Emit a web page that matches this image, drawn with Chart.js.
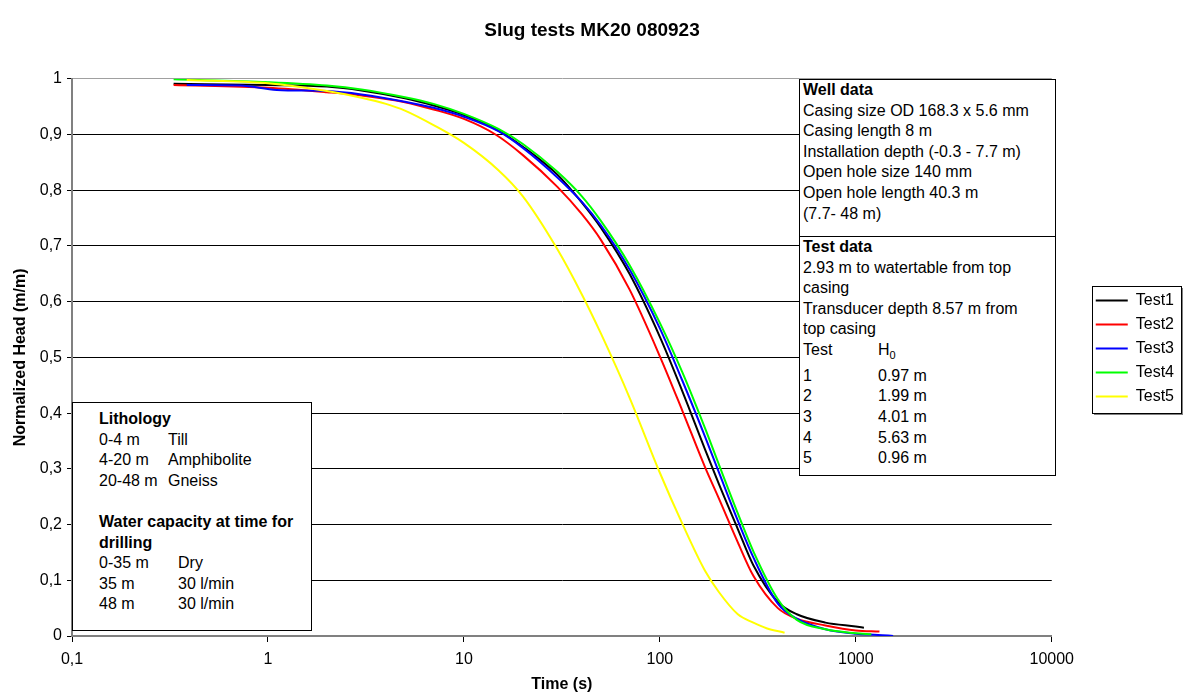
<!DOCTYPE html>
<html>
<head>
<meta charset="utf-8">
<script src="https://cdn.jsdelivr.net/npm/chart.js@4.4.1/dist/chart.umd.min.js"></script>
<style>
  body { margin: 0; background: #fff; }
  #wrap { position: relative; width: 1184px; height: 697px; font-family: "Liberation Sans", Arial, sans-serif; }
  .box { position: absolute; background: #fff; border: 1px solid #000; font-size: 16px; line-height: 20.6px; color: #000; box-sizing: border-box; white-space: nowrap; }
  .c1 { display: inline-block; width: 75px; }
  .c2 { display: inline-block; width: 69px; }
  .c3 { display: inline-block; width: 79px; }
</style>
</head>
<body>
<div id="wrap">
  <canvas id="myChart" width="1184" height="697"></canvas>
  <div class="box" style="left:799px;top:79px;width:257px;height:158px;padding-left:3px;">
    <b>Well data</b><br>Casing size OD 168.3 x 5.6 mm<br>Casing length 8 m<br>Installation depth (-0.3 - 7.7 m)<br>Open hole size 140 mm<br>Open hole length 40.3 m<br>(7.7- 48 m)
  </div>
  <div class="box" style="left:799px;top:236px;width:257px;height:240px;padding-left:3px;">
    <b>Test data</b><br>2.93 m to watertable from top<br>casing<br>Transducer depth 8.57 m from<br>top casing<br>
    <span class="c1">Test</span>H<sub style="font-size:11px">0</sub><br>
    <span class="c1">1</span>0.97 m<br>
    <span class="c1">2</span>1.99 m<br>
    <span class="c1">3</span>4.01 m<br>
    <span class="c1">4</span>5.63 m<br>
    <span class="c1">5</span>0.96 m
  </div>
  <div class="box" style="left:72px;top:402px;width:240px;height:229px;padding-left:26px;padding-top:6px;">
    <b>Lithology</b><br>
    <span class="c2">0-4 m</span>Till<br>
    <span class="c2">4-20 m</span>Amphibolite<br>
    <span class="c2">20-48 m</span>Gneiss<br>
    <br>
    <b>Water capacity at time for<br>drilling</b><br>
    <span class="c3">0-35 m</span>Dry<br>
    <span class="c3">35 m</span>30 l/min<br>
    <span class="c3">48 m</span>30 l/min
  </div>
</div>
<script>
const seriesNames = ['Test1', 'Test2', 'Test3', 'Test4', 'Test5'];
const seriesColors = ['#000000', '#ff0000', '#0000ff', '#00ff00', '#ffff00'];
const xTicks = [0.1, 1, 10, 100, 1000, 10000];

// time (s) and normalized head (m/m)
const t1 = [0.33, 1, 2, 3, 5, 7, 10, 15, 20, 30, 40, 50, 70, 100, 130, 170, 200, 250, 300, 400, 500, 700, 1000, 1100];
const h1 = [0.991, 0.989, 0.986, 0.979, 0.965, 0.952, 0.935, 0.907, 0.878, 0.828, 0.778, 0.733, 0.650, 0.537, 0.440, 0.335, 0.273, 0.192, 0.127, 0.061, 0.039, 0.024, 0.017, 0.015];

const t2 = [0.33, 1, 2, 3, 5, 7, 10, 14.5, 20, 30, 40, 50, 70, 100, 130, 170, 200, 250, 300, 400, 500, 700, 1000, 1320];
const h2 = [0.989, 0.984, 0.976, 0.970, 0.958, 0.945, 0.928, 0.900, 0.863, 0.806, 0.757, 0.711, 0.622, 0.502, 0.405, 0.303, 0.247, 0.168, 0.108, 0.050, 0.031, 0.019, 0.010, 0.008];

const t3 = [0.385, 0.72, 1.11, 2, 3, 5, 7, 10, 15, 20, 30, 40, 50, 70, 100, 130, 170, 200, 250, 300, 400, 500, 700, 1000, 1300, 1550];
const h3 = [0.989, 0.988, 0.980, 0.978, 0.972, 0.959, 0.948, 0.932, 0.906, 0.876, 0.823, 0.779, 0.737, 0.658, 0.552, 0.459, 0.358, 0.294, 0.207, 0.141, 0.058, 0.031, 0.012, 0.004, 0.002, 0.0];

const t4 = [0.33, 1, 2, 3, 5, 7, 10, 15, 20, 30, 40, 50, 70, 100, 130, 170, 200, 250, 300, 400, 500, 700, 1000, 1200];
const h4 = [0.999, 0.994, 0.988, 0.981, 0.967, 0.955, 0.937, 0.910, 0.883, 0.833, 0.789, 0.745, 0.666, 0.562, 0.474, 0.373, 0.308, 0.220, 0.152, 0.066, 0.029, 0.012, 0.005, 0.003];

const t5 = [0.385, 1, 2, 3, 4, 5, 7, 10, 15, 20, 30, 40, 50, 70, 100, 130, 170, 200, 250, 300, 350, 433];
const h5 = [0.998, 0.992, 0.978, 0.966, 0.955, 0.943, 0.917, 0.885, 0.836, 0.789, 0.694, 0.613, 0.543, 0.428, 0.293, 0.202, 0.117, 0.079, 0.039, 0.024, 0.014, 0.006];

const times = [t1, t2, t3, t4, t5];
const heads = [h1, h2, h3, h4, h5];

const pts = (t, h) => t.map((v, i) => ({ x: v, y: h[i] }));

// Excel style frame with shadow around the legend
const legendFrame = {
  id: 'legendFrame',
  afterDraw(chart) {
    const lg = chart.legend;
    if (!lg || !lg.legendHitBoxes || !lg.legendHitBoxes.length) return;
    const hb = lg.legendHitBoxes;
    const last = hb[hb.length - 1];
    const x0 = Math.round(lg.left + 4), x1 = Math.round(lg.left + lg.width - 3);
    const y0 = Math.round(hb[0].top - 7), y1 = Math.round(last.top + last.height + 8);
    const ctx = chart.ctx;
    ctx.save();
    ctx.fillStyle = '#808080';
    ctx.fillRect(x0 + 2, y1, x1 - x0, 2);
    ctx.fillRect(x1, y0 + 2, 2, y1 - y0);
    ctx.strokeStyle = '#000';
    ctx.lineWidth = 1;
    ctx.strokeRect(x0 + 0.5, y0 + 0.5, x1 - x0, y1 - y0);
    ctx.restore();
  }
};

const ctx = document.getElementById('myChart');
new Chart(ctx, {
  type: 'scatter',
  data: {
    datasets: seriesNames.map((name, i) => ({
      label: name,
      data: pts(times[i], heads[i]),
      showLine: true,
      borderColor: seriesColors[i],
      backgroundColor: seriesColors[i],
      borderWidth: 2,
      pointRadius: 0,
      cubicInterpolationMode: 'monotone',
      order: seriesNames.length - i,
    }))
  },
  options: {
    responsive: false,
    animation: false,
    layout: { padding: 0 },
    plugins: {
      title: {
        display: true,
        text: 'Slug tests MK20 080923',
        color: '#000',
        font: { family: 'Liberation Sans', size: 19, weight: 'bold' },
        padding: { top: 19, bottom: 37 },
      },
      legend: {
        position: 'right',
        align: 'center',
        labels: {
          color: '#000',
          font: { family: 'Liberation Sans', size: 16 },
          usePointStyle: true,
          pointStyle: 'line',
          pointStyleWidth: 32,
          padding: 8,
          sort: (a, b) => a.datasetIndex - b.datasetIndex,
        }
      },
      tooltip: { enabled: false },
    },
    scales: {
      x: {
        type: 'logarithmic',
        min: 0.1,
        max: 10000,
        afterBuildTicks: (scale) => { scale.ticks = xTicks.map(v => ({ value: v })); },
        afterFit: (scale) => { scale.height = 61; },
        ticks: {
          color: '#000',
          autoSkip: false,
          maxRotation: 0,
          padding: 8,
          font: { family: 'Liberation Sans', size: 16 },
          callback: (v) => String(v).replace('.', ','),
        },
        grid: { drawOnChartArea: false, drawTicks: true, tickLength: 6, tickColor: '#000' },
        border: { color: '#808080', width: 2 },
        title: {
          display: true,
          text: 'Time (s)',
          color: '#000',
          font: { family: 'Liberation Sans', size: 16, weight: 'bold' },
          padding: { top: 0, bottom: 3 },
        }
      },
      y: {
        min: 0,
        max: 1,
        afterFit: (scale) => { scale.width = 72; },
        ticks: {
          stepSize: 0.1,
          color: '#000',
          padding: 5,
          font: { family: 'Liberation Sans', size: 16 },
          callback: (v) => String(Math.round(v * 10) / 10).replace('.', ','),
        },
        grid: {
          color: (c) => (c.tick && c.tick.value === 1 ? '#a0a0a0' : '#000'),
          lineWidth: 1,
          tickLength: 5,
          tickColor: '#000',
        },
        border: { color: '#808080', width: 2 },
        title: {
          display: true,
          text: 'Normalized Head (m/m)',
          color: '#000',
          font: { family: 'Liberation Sans', size: 16, weight: 'bold' },
          padding: { top: 11, bottom: 0 },
        }
      },
      yR: {
        position: 'right',
        display: true,
        grid: { display: false, drawTicks: false },
        border: { display: false },
        ticks: { display: false },
        afterFit: (scale) => { scale.width = 36; },
      }
    }
  },
  plugins: [legendFrame],
});
</script>
</body>
</html>
